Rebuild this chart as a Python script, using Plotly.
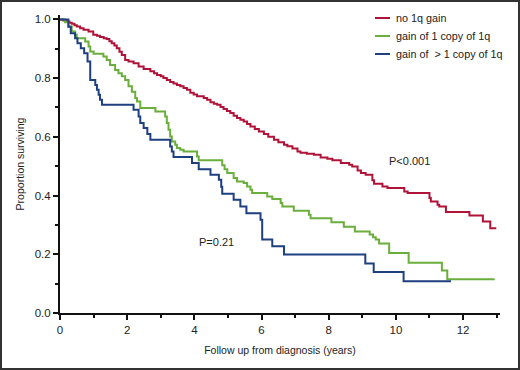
import plotly.graph_objects as go

# ---------------- data ----------------
series_names = ["no 1q gain", "gain of 1 copy of 1q", "gain of  > 1 copy of 1q"]
series_colors = ["#b01238", "#6aae3c", "#1e3f80"]

red_t = [0, 0.10, 0.20, 0.28, 0.35, 0.43, 0.50, 0.60, 0.70, 0.85, 0.99, 1.10, 1.19, 1.30, 1.39,
         1.47, 1.54, 1.62, 1.69, 1.77, 1.84, 1.94, 2.04, 2.19, 2.34, 2.49, 2.69, 2.80, 2.89, 3.00,
         3.08, 3.18, 3.28, 3.38, 3.48, 3.58, 3.68, 3.78, 3.88, 3.98, 4.08, 4.28, 4.38, 4.48, 4.58,
         4.68, 4.78, 4.87, 4.97, 5.07, 5.17, 5.27, 5.37, 5.47, 5.57, 5.67, 5.80, 5.92, 6.07, 6.20,
         6.37, 6.50, 6.67, 6.77, 6.92, 7.07, 7.16, 7.35, 7.56, 7.76, 7.96, 8.11, 8.36, 8.61, 8.70,
         8.86, 8.96, 9.10, 9.30, 9.35, 9.60, 9.75, 10.25, 10.35, 11.00, 11.04, 11.24, 11.29, 11.49,
         12.19, 12.59, 12.81, 12.99]
red_s = [1.0, 0.996, 0.993, 0.989, 0.985, 0.980, 0.976, 0.970, 0.965, 0.959, 0.948, 0.944, 0.940,
         0.936, 0.933, 0.926, 0.919, 0.911, 0.902, 0.890, 0.879, 0.862, 0.857, 0.851, 0.840, 0.831,
         0.823, 0.817, 0.811, 0.806, 0.800, 0.794, 0.787, 0.782, 0.777, 0.772, 0.766, 0.760, 0.750,
         0.744, 0.738, 0.732, 0.726, 0.718, 0.713, 0.709, 0.702, 0.695, 0.688, 0.681, 0.672, 0.664,
         0.658, 0.652, 0.644, 0.635, 0.627, 0.618, 0.610, 0.600, 0.590, 0.582, 0.573, 0.568, 0.560,
         0.550, 0.546, 0.542, 0.539, 0.530, 0.525, 0.520, 0.511, 0.505, 0.499, 0.485, 0.477, 0.471,
         0.452, 0.440, 0.431, 0.426, 0.414, 0.409, 0.392, 0.380, 0.369, 0.363, 0.344, 0.332, 0.312,
         0.289, 0.289]

green_t = [0, 0.15, 0.25, 0.35, 0.45, 0.50, 0.75, 0.85, 0.90, 1.00, 1.29, 1.39, 1.49, 1.64, 1.74,
           1.84, 1.94, 2.04, 2.14, 2.24, 2.29, 2.39, 2.84, 3.13, 3.18, 3.23, 3.28, 3.33, 3.43, 3.48,
           3.58, 3.68, 4.08, 4.13, 4.83, 4.90, 4.98, 5.17, 5.27, 5.47, 5.57, 5.67, 5.72, 6.17, 6.32,
           6.57, 6.62, 6.96, 7.41, 7.46, 8.08, 8.45, 8.78, 9.22, 9.32, 9.40, 9.50, 9.80, 10.38, 11.37,
           11.53, 12.94]
green_s = [1.0, 0.99, 0.976, 0.959, 0.948, 0.936, 0.925, 0.908, 0.891, 0.883, 0.874, 0.862, 0.845,
           0.828, 0.817, 0.806, 0.794, 0.772, 0.754, 0.732, 0.720, 0.698, 0.686, 0.669, 0.647, 0.624,
           0.601, 0.584, 0.573, 0.562, 0.556, 0.550, 0.533, 0.520, 0.503, 0.490, 0.477, 0.460, 0.448,
           0.443, 0.431, 0.420, 0.409, 0.397, 0.388, 0.375, 0.363, 0.348, 0.335, 0.323, 0.309, 0.294,
           0.278, 0.267, 0.258, 0.250, 0.237, 0.204, 0.171, 0.145, 0.115, 0.115]

blue_t = [0, 0.25, 0.32, 0.45, 0.52, 0.62, 0.72, 0.82, 0.90, 1.05, 1.10, 1.15, 1.19, 1.25, 2.19,
          2.34, 2.39, 2.49, 2.60, 2.69, 3.28, 3.33, 3.38, 3.93, 4.13, 4.48, 4.73, 4.80, 4.83, 5.17,
          5.37, 5.55, 5.97, 6.02, 6.32, 6.67, 9.09, 9.34, 10.23, 11.64]
blue_s = [1.0, 0.975, 0.953, 0.936, 0.919, 0.902, 0.885, 0.857, 0.794, 0.777, 0.760, 0.743, 0.726,
          0.709, 0.692, 0.669, 0.647, 0.630, 0.610, 0.590, 0.567, 0.550, 0.531, 0.511, 0.490, 0.471,
          0.454, 0.430, 0.406, 0.386, 0.363, 0.340, 0.318, 0.250, 0.227, 0.199, 0.169, 0.140, 0.108,
          0.108]

x_ticks = [0, 2, 4, 6, 8, 10, 12]
y_ticks = [0.0, 0.2, 0.4, 0.6, 0.8, 1.0]
y_tick_labels = ["0.0", "0.2", "0.4", "0.6", "0.8", "1.0"]
p_labels = ["P<0.001", "P=0.21"]

# ---------------- figure ----------------
W, H = 520, 370
ML, MR, MT, MB = 60, 20, 15, 57
PW, PH = W - ML - MR, H - MT - MB

fig = go.Figure()
for t, s, name, col in zip([red_t, green_t, blue_t], [red_s, green_s, blue_s],
                           series_names, series_colors):
    fig.add_trace(go.Scatter(x=t, y=s, mode="lines", name=name,
                             line=dict(color=col, width=2, shape="hv"),
                             showlegend=False))

def px2paper_x(px):
    return (px - ML) / PW

def py2paper_y(py):
    return (H - MB - py) / PH

textfam = "Liberation Sans, Arial, sans-serif"
shapes = []
annotations = []
legend_rows = [18, 36, 54]
for name, col, ry in zip(series_names, series_colors, legend_rows):
    shapes.append(dict(type="line", xref="paper", yref="paper",
                       x0=px2paper_x(375), x1=px2paper_x(390),
                       y0=py2paper_y(ry), y1=py2paper_y(ry),
                       line=dict(color=col, width=2)))
    annotations.append(dict(xref="paper", yref="paper", x=px2paper_x(394), y=py2paper_y(ry),
                            text=name, showarrow=False, xanchor="left", yanchor="middle",
                            font=dict(size=10.8, color="#222222", family=textfam)))

annotations.append(dict(x=9.74, y=0.519, text=p_labels[0], showarrow=False,
                        xanchor="left", yanchor="middle",
                        font=dict(size=11, color="#222222", family=textfam)))
annotations.append(dict(x=4.07, y=0.243, text=p_labels[1], showarrow=False,
                        xanchor="left", yanchor="middle",
                        font=dict(size=11, color="#222222", family=textfam)))

# outer frame
shapes.append(dict(type="rect", xref="paper", yref="paper",
                   x0=-(ML - 1) / PW, x1=1 + (MR - 1) / PW,
                   y0=-(MB - 1) / PH, y1=1 + (MT - 1) / PH,
                   line=dict(color="#333333", width=2)))

tickfont = dict(size=11.5, color="#222222", family=textfam)
titlefont = dict(size=10.5, color="#222222", family=textfam)

fig.update_layout(
    width=W, height=H,
    margin=dict(l=ML, r=MR, t=MT, b=MB, autoexpand=False),
    paper_bgcolor="white", plot_bgcolor="white",
    shapes=shapes, annotations=annotations,
    xaxis=dict(range=[0, 13.1], showgrid=False, zeroline=False, automargin=False,
               showline=True, linecolor="#111111", linewidth=2,
               tickmode="array", tickvals=x_ticks, ticktext=[str(v) for v in x_ticks],
               ticks="outside", ticklen=5, tickwidth=1.5, tickcolor="#111111",
               minor=dict(dtick=1, tick0=0, ticks="outside", ticklen=3, tickwidth=1.5,
                          tickcolor="#111111", showgrid=False),
               tickfont=tickfont,
               title=dict(text="Follow up from diagnosis (years)", font=titlefont, standoff=12)),
    yaxis=dict(range=[0, 1.015], showgrid=False, zeroline=False, automargin=False,
               showline=True, linecolor="#111111", linewidth=2,
               tickmode="array", tickvals=y_ticks, ticktext=y_tick_labels,
               ticks="outside", ticklen=5, tickwidth=1.5, tickcolor="#111111",
               minor=dict(dtick=0.1, tick0=0, ticks="outside", ticklen=3, tickwidth=1.5,
                          tickcolor="#111111", showgrid=False),
               tickfont=tickfont,
               title=dict(text="Proportion surviving", font=titlefont, standoff=8)),
)

fig.write_html("out.html",
               config={"displayModeBar": False},
               post_script="document.body.style.margin='0';document.body.style.padding='0';")
